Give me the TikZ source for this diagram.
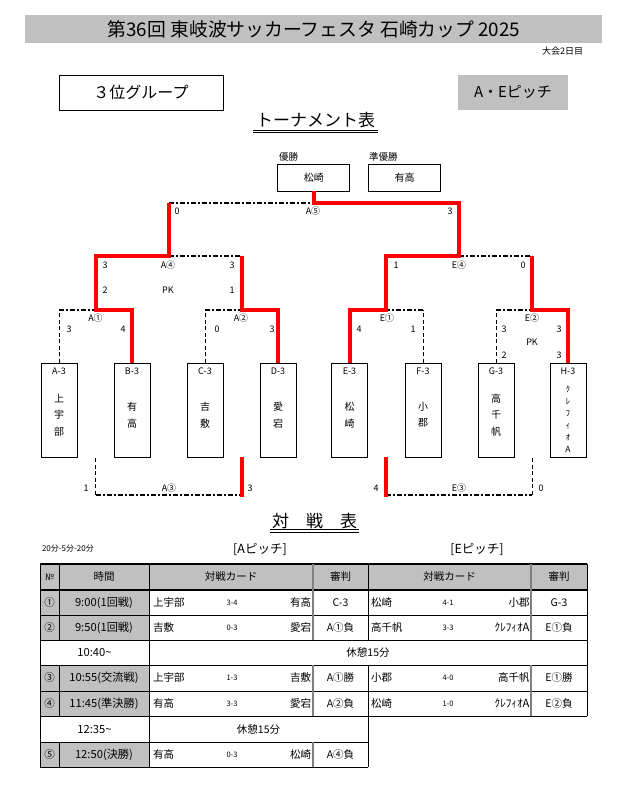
\documentclass[tikz,border=0pt]{standalone}
\usepackage{fontspec}
\setmainfont{Noto Sans CJK JP}
\usetikzlibrary{calc}
\definecolor{hdr}{RGB}{192,192,192}
\definecolor{gline}{RGB}{128,128,128}
\definecolor{wred}{RGB}{255,0,0}
\newcommand{\myfs}[1]{\fontsize{#1}{#1}\selectfont}
\newcommand{\myfsb}[2]{\fontsize{#1}{#2}\selectfont}
\begin{document}
\begin{tikzpicture}[x=1pt,y=-1pt,
  txt/.style={inner sep=0pt, outer sep=0pt, anchor=center},
  sc/.style={txt, font=\myfs{9}},
  tb/.style={txt, font=\myfs{10.5}},
  tt/.style={txt, font=\myfs{11.2}},
  small/.style={txt, font=\myfs{7.5}},
  teambox/.style={draw, line width=0.8pt, minimum width=36pt, minimum height=94pt, inner sep=0pt},
  tcode/.style={txt, font=\myfs{9}},
  tname/.style={txt, align=center, font=\myfsb{10}{16.5}},
  finbox/.style={draw, line width=0.8pt, minimum width=72pt, minimum height=27pt, inner sep=0pt, font=\myfs{10}},
  win/.style={draw=wred, line width=4pt},
  lose/.style={line width=1.3pt, dash pattern=on 5pt off 2pt on 2pt off 2pt},
  losev/.style={line width=1pt, dash pattern=on 4pt off 2.5pt},
  thinl/.style={line width=0.8pt},
  grayl/.style={draw=gline, line width=2.2pt}
]
\useasboundingbox (0,0) rectangle (619,811);
\fill[white] (0,0) rectangle (619,811);

% ---------- header ----------
\fill[hdr] (25,15) rectangle (602,43);
\node[txt, font=\myfs{18.8}] (title) at (314,29) {第36回 東岐波サッカーフェスタ 石崎カップ 2025};
\node[txt, anchor=east, font=\myfs{9}] (day) at (583,51) {大会2日目};
\draw[line width=1pt] (59,75) rectangle (223,110);
\node[txt, font=\myfs{16}] (grp) at (141,92) {３位グループ};
\fill[hdr] (458,75) rectangle (568,110);
\node[txt, font=\myfs{15}] (pitch) at (513,92) {A・Eピッチ};

\node[txt, font=\myfs{17}] (tourn) at (315.5,120) {トーナメント表};
\draw[line width=0.7pt] (253,130) -- (378,130) (253,132.5) -- (378,132.5);

% ---------- finals boxes ----------
\node[txt, anchor=west, font=\myfs{9.5}] (lab1) at (279,157) {優勝};
\node[txt, anchor=west, font=\myfs{9.5}] (lab2) at (369,157) {準優勝};
\node[finbox] (champ) at (313.75,177.5) {松崎};
\node[finbox] (runner) at (404.5,177.5) {有高};

% ---------- team boxes ----------
\node[teambox] (tA) at (59,410) {};
\node[teambox] (tB) at (132,410) {};
\node[teambox] (tC) at (205,410) {};
\node[teambox] (tD) at (278,410) {};
\node[teambox] (tE) at (349.5,410) {};
\node[teambox] (tF) at (423,410) {};
\node[teambox] (tG) at (496,410) {};
\node[teambox] (tH) at (568,410) {};
\node[tcode] (cA) at (59,371) {A-3};
\node[tcode] (cB) at (132,371) {B-3};
\node[tcode] (cC) at (205,371) {C-3};
\node[tcode] (cD) at (278,371) {D-3};
\node[tcode] (cE) at (349.5,371) {E-3};
\node[tcode] (cF) at (423,371) {F-3};
\node[tcode] (cG) at (496,371) {G-3};
\node[tcode] (cH) at (568,371) {H-3};
\node[tname] (nA) at (59,415) {上\\宇\\部};
\node[tname] (nB) at (132,415) {有\\高};
\node[tname] (nC) at (205,415) {吉\\敷};
\node[tname] (nD) at (278,415) {愛\\宕};
\node[tname] (nE) at (349.5,415) {松\\崎};
\node[tname] (nF) at (423,415) {小\\郡};
\node[tname] (nG) at (496,415) {高\\千\\帆};
\node[txt, align=center, font=\myfsb{8.5}{12}] (nH) at (568,419) {ｸ\\ﾚ\\ﾌ\\ｨ\\ｵ\\A};

% ---------- junctions ----------
\coordinate (a1) at (95.5,310);
\coordinate (a2) at (241.5,310);
\coordinate (a4) at (168.5,256);
\coordinate (fin) at (313.75,203);
\coordinate (e1) at (386,310);
\coordinate (e2) at (532,310);
\coordinate (e4) at (459,256);
\coordinate (a3Lt) at (95.5,458);
\coordinate (a3L) at (95.5,495);
\coordinate (a3R) at (241.5,495);
\coordinate (a3Rt) at (241.5,457);
\coordinate (a3Rb) at (241.5,497);
\coordinate (e3Lt) at (386,457);
\coordinate (e3Lb) at (386,497);
\coordinate (e3L) at (386,495);
\coordinate (e3R) at (532,495);
\coordinate (e3Rt) at (532,458);

% ---------- losing (black) lines ----------
\draw[losev] (tA.north) -- (tA.north |- a1);
\draw[lose] (tA.north |- a1) -- (a1);
\draw[losev] (tC.north) -- (tC.north |- a2);
\draw[lose] (tC.north |- a2) -- (a2);
\draw[lose] (a4) -- (a2 |- a4);
\draw[lose] (a4 |- fin) -- (fin);
\draw[losev] (tF.north) -- (tF.north |- e1);
\draw[lose] (tF.north |- e1) -- (e1);
\draw[losev] (tG.north) -- (tG.north |- e2);
\draw[lose] (tG.north |- e2) -- (e2);
\draw[lose] (e4) -- (e2 |- e4);
\draw[losev] (a3Lt) -- (a3L);
\draw[lose] (a3L) -- (a3R);
\draw[lose] (e3L) -- (e3R);
\draw[losev] (e3Rt) -- (e3R);

% ---------- winning (red) lines ----------
\draw[win] (tB.north) |- (a1) |- (a4) -- (a4 |- fin);
\draw[win] (tD.north) |- (a2) -- (a2 |- a4);
\draw[win] (tE.north) |- (e1) |- (e4) -- (e4 |- fin) -| (champ.south);
\draw[win] (tH.north) |- (e2) -- (e2 |- e4);
\draw[win] (a3Rt) -- (a3Rb);
\draw[win] (e3Lt) -- (e3Lb);

% ---------- bracket labels ----------
\node[sc] (s1) at (177,211) {0};
\node[sc] (m5) at (313,211) {A⑤};
\node[sc] (s2) at (450,211) {3};
\node[sc] (s3) at (105,265) {3};
\node[sc] (m4) at (168,265) {A④};
\node[sc] (s4) at (232,265) {3};
\node[sc] (s5) at (105,290) {2};
\node[sc] (pk1) at (168,290) {PK};
\node[sc] (s6) at (232,290) {1};
\node[sc] (s7) at (396,265) {1};
\node[sc] (m6) at (459,265) {E④};
\node[sc] (s8) at (523,265) {0};
\node[sc] (m1) at (95.5,318) {A①};
\node[sc] (s9) at (69,329) {3};
\node[sc] (s10) at (123,329) {4};
\node[sc] (m2) at (241,318) {A②};
\node[sc] (s11) at (217,329) {0};
\node[sc] (s12) at (272,329) {3};
\node[sc] (m7) at (387,318) {E①};
\node[sc] (s13) at (359,329) {4};
\node[sc] (s14) at (413,329) {1};
\node[sc] (m8) at (532,318) {E②};
\node[sc] (s15) at (504,329) {3};
\node[sc] (s16) at (559,329) {3};
\node[sc] (pk2) at (532,342) {PK};
\node[sc] (s17) at (504,355) {2};
\node[sc] (s18) at (559,355) {3};
\node[sc] (s19) at (86,488) {1};
\node[sc] (m3) at (169,488) {A③};
\node[sc] (s20) at (250,488) {3};
\node[sc] (s21) at (376,488) {4};
\node[sc] (m9) at (459,488) {E③};
\node[sc] (s22) at (541,488) {0};

% ---------- schedule heading ----------
\node[txt, font=\myfs{17}] (vs) at (314.5,521) {対　戦　表};
\draw[line width=0.7pt] (270,529.5) -- (359,529.5) (270,532) -- (359,532);
\node[txt, anchor=west, font=\myfs{8}] (dur) at (42,549) {20分-5分-20分};
\node[txt, font=\myfs{12.5}] (pA) at (260,549) {[Aピッチ]};
\node[txt, font=\myfs{12.5}] (pE) at (477,549) {[Eピッチ]};

% ---------- table fills ----------
\fill[hdr] (40,564) rectangle (587,590);
\fill[hdr] (40,590) rectangle (149,640);
\fill[hdr] (40,665) rectangle (149,716);
\fill[hdr] (40,742) rectangle (149,767);

% ---------- table grid ----------
\draw[line width=1.5pt] (40,564) -- (587,564);
\draw[line width=1.2pt] (40,590) -- (587,590);
\draw[thinl] (40,615) -- (587,615) (40,640) -- (587,640) (40,665) -- (587,665)
  (40,691) -- (587,691) (40,716) -- (587,716) (40,742) -- (368,742) (40,767) -- (368,767);
\draw[thinl] (40,564) -- (40,767);
\draw[thinl] (59,564) -- (59,640) (59,665) -- (59,716) (59,742) -- (59,767);
\draw[thinl] (149,564) -- (149,767);
\draw[thinl] (368,564) -- (368,640) (368,665) -- (368,767);
\draw[thinl] (587,564) -- (587,716);
\draw[grayl] (313,564) -- (313,640) (313,665) -- (313,716) (313,742) -- (313,767);
\draw[grayl] (531,564) -- (531,640) (531,665) -- (531,716);

% ---------- table header ----------
\node[txt, font=\myfs{9}] (hno) at (49.5,577) {№};
\node[tb] (htm) at (104,577) {時間};
\node[tb] (hca) at (231,577) {対戦カード};
\node[tb] (hra) at (340.5,577) {審判};
\node[tb] (hce) at (449.5,577) {対戦カード};
\node[tb] (hre) at (559,577) {審判};

% ---------- row 1 ----------
\node[tb] (r1no) at (49.5,602.5) {①};
\node[tt] (r1tm) at (104,602.5) {9:00(1回戦)};
\node[tb, anchor=west] (r1al) at (153,602.5) {上宇部};
\node[small] (r1as) at (232,602.5) {3-4};
\node[tb, anchor=east] (r1ar) at (311,602.5) {有高};
\node[tb] (r1ra) at (340.5,602.5) {C-3};
\node[tb, anchor=west] (r1el) at (371,602.5) {松崎};
\node[small] (r1es) at (448,602.5) {4-1};
\node[tb, anchor=east] (r1er) at (529.5,602.5) {小郡};
\node[tb] (r1re) at (559,602.5) {G-3};
% ---------- row 2 ----------
\node[tb] (r2no) at (49.5,627.5) {②};
\node[tt] (r2tm) at (104,627.5) {9:50(1回戦)};
\node[tb, anchor=west] (r2al) at (153,627.5) {吉敷};
\node[small] (r2as) at (232,627.5) {0-3};
\node[tb, anchor=east] (r2ar) at (311,627.5) {愛宕};
\node[tb] (r2ra) at (340.5,627.5) {A①負};
\node[tb, anchor=west] (r2el) at (371,627.5) {高千帆};
\node[small] (r2es) at (448,627.5) {3-3};
\node[tt, anchor=east] (r2er) at (529.5,627.5) {ｸﾚﾌｨｵA};
\node[tb] (r2re) at (559,627.5) {E①負};
% ---------- break 1 ----------
\node[tt] (b1tm) at (94.5,652.5) {10:40\char"7E};
\node[tb] (b1tx) at (368,652.5) {休憩15分};
% ---------- row 3 ----------
\node[tb] (r3no) at (49.5,678) {③};
\node[tt] (r3tm) at (104,678) {10:55(交流戦)};
\node[tb, anchor=west] (r3al) at (153,678) {上宇部};
\node[small] (r3as) at (232,678) {1-3};
\node[tb, anchor=east] (r3ar) at (311,678) {吉敷};
\node[tb] (r3ra) at (340.5,678) {A①勝};
\node[tb, anchor=west] (r3el) at (371,678) {小郡};
\node[small] (r3es) at (448,678) {4-0};
\node[tb, anchor=east] (r3er) at (529.5,678) {高千帆};
\node[tb] (r3re) at (559,678) {E①勝};
% ---------- row 4 ----------
\node[tb] (r4no) at (49.5,703.5) {④};
\node[tt] (r4tm) at (104,703.5) {11:45(準決勝)};
\node[tb, anchor=west] (r4al) at (153,703.5) {有高};
\node[small] (r4as) at (232,703.5) {3-3};
\node[tb, anchor=east] (r4ar) at (311,703.5) {愛宕};
\node[tb] (r4ra) at (340.5,703.5) {A②負};
\node[tb, anchor=west] (r4el) at (371,703.5) {松崎};
\node[small] (r4es) at (448,703.5) {1-0};
\node[tt, anchor=east] (r4er) at (529.5,703.5) {ｸﾚﾌｨｵA};
\node[tb] (r4re) at (559,703.5) {E②負};
% ---------- break 2 ----------
\node[tt] (b2tm) at (94.5,729) {12:35\char"7E};
\node[tb] (b2tx) at (258.5,729) {休憩15分};
% ---------- row 5 ----------
\node[tb] (r5no) at (49.5,754.5) {⑤};
\node[tt] (r5tm) at (104,754.5) {12:50(決勝)};
\node[tb, anchor=west] (r5al) at (153,754.5) {有高};
\node[small] (r5as) at (232,754.5) {0-3};
\node[tb, anchor=east] (r5ar) at (311,754.5) {松崎};
\node[tb] (r5ra) at (340.5,754.5) {A④負};
\end{tikzpicture}
\end{document}
